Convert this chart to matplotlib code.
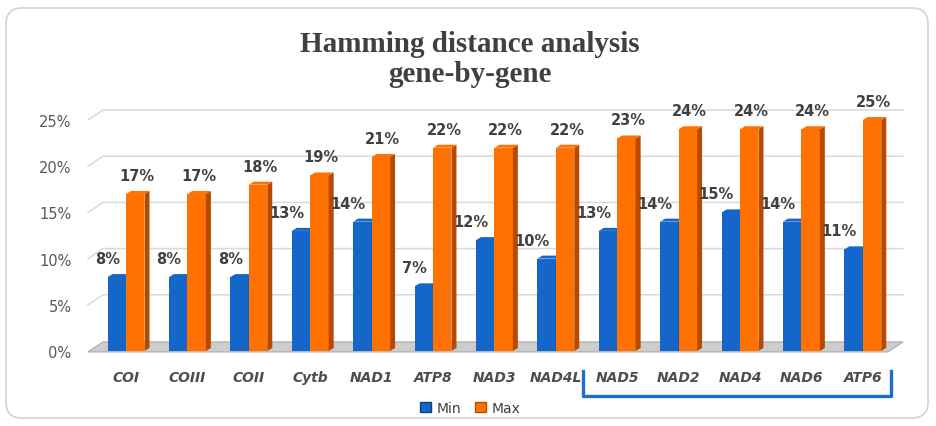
import matplotlib
matplotlib.use('Agg')
import matplotlib.pyplot as plt
from matplotlib.patches import Polygon, FancyBboxPatch, Patch
from matplotlib.lines import Line2D

genes = ['COI', 'COIII', 'COII', 'Cytb', 'NAD1', 'ATP8', 'NAD3',
         'NAD4L', 'NAD5', 'NAD2', 'NAD4', 'NAD6', 'ATP6']
min_vals = [8, 8, 8, 13, 14, 7, 12, 10, 13, 14, 15, 14, 11]
max_vals = [17, 17, 18, 19, 21, 22, 22, 22, 23, 24, 24, 24, 25]
yticks = [0, 5, 10, 15, 20, 25]

BLUE, BLUE_SIDE = '#1466C8', '#0B3F86'
ORANGE, ORANGE_SIDE = '#FF7100', '#B84A00'
TXT = '#404040'

W, H = 936, 427
fig = plt.figure(figsize=(W / 100, H / 100), dpi=100)

# rounded frame around the whole chart
frame = FancyBboxPatch((6, 8), 922, 410, boxstyle='round,pad=0,rounding_size=16',
                       transform=None, fill=False, edgecolor='#D3D3D3', lw=1.2)
fig.patches.append(frame)

# axes placed in pixels: front-left at x=88, bottom (0%) at y=352, 25% at y=121
ax = fig.add_axes([88 / W, (H - 352) / H, 800 / W, 231 / H])
xmin, xmax = -0.62, 12.41
ymin, ymax = 0, 25
ax.set_xlim(xmin, xmax)
ax.set_ylim(ymin, ymax)
for s in ax.spines.values():
    s.set_visible(False)

sx = 800 / (xmax - xmin)   # px per x unit
sy = 231 / (ymax - ymin)   # px per y unit

# back wall gridlines with a little perspective offset
dx, dy = 15 / sx, 10 / sy
for v in yticks[1:]:
    ax.plot([xmin, xmin + dx, xmax + dx], [v, v + dy, v + dy],
            color='#D9D9D9', lw=1.1, clip_on=False, zorder=1)

# floor
floor = Polygon([(xmin, -0.1), (xmax, -0.1), (xmax + dx, dy - 0.1), (xmin + dx, dy - 0.1)],
                closed=True, facecolor='#CDCDCD', edgecolor='#ABABAB', lw=0.8,
                clip_on=False, zorder=2)
ax.add_patch(floor)

# bars with a small side face and top cap
bw = 0.3
bdx, bdy = 5 / sx, 3 / sy


def bar3d(x0, h, face, side):
    ax.bar(x0, h, width=bw, align='edge', color=face, edgecolor='none', zorder=4)
    x1 = x0 + bw
    ax.add_patch(Polygon([(x1, 0), (x1 + bdx, bdy), (x1 + bdx, h + bdy), (x1, h)],
                         closed=True, facecolor=side, edgecolor='none', zorder=4, clip_on=False))
    ax.add_patch(Polygon([(x0, h), (x1, h), (x1 + bdx, h + bdy), (x0 + bdx, h + bdy)],
                         closed=True, facecolor=face, edgecolor='none', zorder=4, clip_on=False))


for i, (mn, mx) in enumerate(zip(min_vals, max_vals)):
    bar3d(i - bw, mn, BLUE, BLUE_SIDE)
    bar3d(i, mx, ORANGE, ORANGE_SIDE)
    ax.text(i - 0.1, mn + 1.2, f'{mn}%', ha='right', va='bottom', fontsize=10.5,
            fontweight='bold', color=TXT, zorder=5)
    ax.text(i + bw / 2 + 0.03, mx + 1.2, f'{mx}%', ha='center', va='bottom', fontsize=10.5,
            fontweight='bold', color=TXT, zorder=5, clip_on=False)

ax.set_yticks(yticks)
ax.set_yticklabels([f'{v}%' for v in yticks], fontsize=10.5, color='#595959')
ax.set_xticks(range(len(genes)))
ax.set_xticklabels(genes, fontsize=10, fontweight='bold', fontstyle='italic', color='#4D4D4D')
ax.tick_params(axis='y', length=0, pad=12)
ax.tick_params(axis='x', length=0, pad=14)

for line, ypx in [('Hamming distance analysis', 44), ('gene-by-gene', 74)]:
    fig.text(0.502, (H - ypx) / H, line, ha='center', va='center',
             fontsize=21, fontweight='bold', family='Liberation Serif', color=TXT)

handles = [Patch(facecolor=BLUE, edgecolor=BLUE_SIDE, label='Min'),
           Patch(facecolor=ORANGE, edgecolor=ORANGE_SIDE, label='Max')]
fig.legend(handles=handles, loc='center', bbox_to_anchor=(0.502, (H - 409) / H), ncol=2,
           frameon=False, fontsize=10, handlelength=0.8, handleheight=0.8,
           handletextpad=0.4, columnspacing=1.0, labelcolor=TXT)

# bracket under the last five genes
bx0, bx1, by0, by1 = 583, 891, 372, 397
bracket = Line2D([bx0 / W, bx0 / W, bx1 / W, bx1 / W],
                 [(H - by0) / H, (H - by1) / H, (H - by1) / H, (H - by0) / H],
                 transform=fig.transFigure, color='#1F6FC8', lw=2.4)
fig.lines.append(bracket)

fig.savefig('out.png', dpi=100)
